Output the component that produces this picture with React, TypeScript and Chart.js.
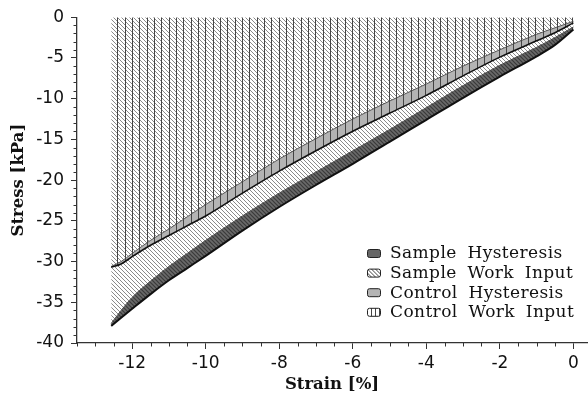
import React, { useEffect, useRef } from 'react';
import { Chart, registerables } from 'chart.js';

Chart.register(...registerables);

// ---- Data ----
const strain = [-12.57, -12.3, -12, -11.5, -11, -10.5, -10, -9, -8, -7, -6, -5, -4, -3, -2, -1, -0.5, 0];
const sampleLower = [-37.9, -36.9, -35.8, -34.0, -32.3, -30.8, -29.3, -26.2, -23.3, -20.6, -18.0, -15.3, -12.6, -9.9, -7.3, -4.8, -3.4, -1.5];
const sampleUpper = [-37.6, -36.0, -34.4, -32.4, -30.6, -29.0, -27.4, -24.4, -21.6, -19.0, -16.4, -13.8, -11.1, -8.4, -5.9, -3.7, -2.5, -1.2];
const controlLower = [-30.7, -30.3, -29.4, -28.0, -26.8, -25.6, -24.4, -21.6, -18.9, -16.4, -14.0, -11.8, -9.6, -7.2, -4.9, -2.9, -1.9, -0.7];
const controlUpper = [-30.6, -30.0, -29.0, -27.4, -26.0, -24.5, -23.0, -20.2, -17.4, -14.9, -12.5, -10.3, -8.2, -6.0, -4.0, -2.1, -1.3, -0.5];

const legendLabels = ['Sample Hysteresis', 'Sample Work Input', 'Control Hysteresis', 'Control Work Input'];
const xTitle = 'Strain [%]';
const yTitle = 'Stress [kPa]';
const xMin = -13.5;
const xMax = 0.37;
const yMin = -40;
const yMax = 0;
const xStep = 2;
const yStep = 5;
const xMinorStep = 0.5;
const yMinorStep = 1;

function diagPattern(bg: string | null, fg: string, step: number, lw: number): CanvasPattern {
  const c = document.createElement('canvas');
  c.width = step;
  c.height = step;
  const g = c.getContext('2d')!;
  if (bg) {
    g.fillStyle = bg;
    g.fillRect(0, 0, step, step);
  }
  g.strokeStyle = fg;
  g.lineWidth = lw;
  g.beginPath();
  for (const o of [-step, 0, step]) {
    g.moveTo(o - 1, -1);
    g.lineTo(o + step + 1, step + 1);
  }
  g.stroke();
  return g.createPattern(c, 'repeat')!;
}

function vertPattern(bg: string | null, fg: string): CanvasPattern {
  const c = document.createElement('canvas');
  c.width = 22;
  c.height = 4;
  const g = c.getContext('2d')!;
  if (bg) {
    g.fillStyle = bg;
    g.fillRect(0, 0, 22, 4);
  }
  g.fillStyle = fg;
  for (const x of [0, 7, 15]) g.fillRect(x, 0, 1, 4);
  return g.createPattern(c, 'repeat')!;
}

const pts = (ys: number[]) => strain.map((x, i) => ({ x, y: ys[i] }));

export default function App() {
  const ref = useRef<HTMLCanvasElement | null>(null);

  useEffect(() => {
    document.body.style.margin = '0';
    const canvas = ref.current!;
    const workDiag = diagPattern('#ffffff', '#8a8a8a', 4, 1);
    const darkDiag = diagPattern('#6a6a6a', '#3a3a3a', 4, 1.2);
    const vert = vertPattern(null, '#444444');

    const minorTicks = {
      id: 'minorTicks',
      afterDraw(chart: any) {
        const { ctx, chartArea, scales } = chart;
        ctx.save();
        ctx.strokeStyle = '#333';
        ctx.lineWidth = 1;
        ctx.beginPath();
        for (let v = xMin; v <= xMax + 1e-9; v += xMinorStep) {
          if (Math.abs(v / xStep - Math.round(v / xStep)) < 1e-6) continue;
          const px = Math.round(scales.x.getPixelForValue(v)) + 0.5;
          ctx.moveTo(px, chartArea.bottom);
          ctx.lineTo(px, chartArea.bottom + 3.5);
        }
        for (let v = yMin; v <= yMax + 1e-9; v += yMinorStep) {
          if (Math.abs(v / yStep - Math.round(v / yStep)) < 1e-6) continue;
          const py = Math.round(scales.y.getPixelForValue(v)) + 0.5;
          ctx.moveTo(chartArea.left, py);
          ctx.lineTo(chartArea.left - 3.5, py);
        }
        ctx.stroke();
        ctx.restore();
      },
    };

    const legendPlugin = {
      id: 'boxLegend',
      afterDraw(chart: any) {
        const ctx = chart.ctx as CanvasRenderingContext2D;
        ctx.save();
        const bx = 367;
        const y0 = 253;
        const dy = 19.6;
        ctx.font = '17px "DejaVu Serif"';
        (ctx as any).letterSpacing = '0.4px';
        (ctx as any).wordSpacing = '5px';
        ctx.textBaseline = 'middle';
        ctx.fillStyle = '#111';
        legendLabels.forEach((lab, i) => {
          const cy = y0 + i * dy;
          const x = bx, y = cy - 4, w = 13, h = 8;
          ctx.beginPath();
          (ctx as any).roundRect(x + 0.5, y + 0.5, w, h, 2);
          if (i === 0) ctx.fillStyle = '#666666';
          else if (i === 1) ctx.fillStyle = '#ffffff';
          else if (i === 2) ctx.fillStyle = '#b4b4b4';
          else ctx.fillStyle = '#ffffff';
          ctx.fill();
          ctx.save();
          ctx.clip();
          ctx.strokeStyle = '#444';
          ctx.lineWidth = 1;
          ctx.beginPath();
          if (i === 1) {
            for (let k = -8; k < 16; k += 4) {
              ctx.moveTo(x + k, y);
              ctx.lineTo(x + k + h + 1, y + h + 1);
            }
          } else if (i === 3) {
            for (let k = 4; k < w; k += 4) {
              ctx.moveTo(x + k + 0.5, y);
              ctx.lineTo(x + k + 0.5, y + h + 1);
            }
          }
          ctx.stroke();
          ctx.restore();
          ctx.beginPath();
          (ctx as any).roundRect(x + 0.5, y + 0.5, w, h, 2);
          ctx.strokeStyle = '#222';
          ctx.lineWidth = 1;
          ctx.stroke();
          ctx.fillStyle = '#111';
          ctx.fillText(lab, 390, cy + 1);
        });
        ctx.restore();
      },
    };

    const chart = new Chart(canvas, {
      type: 'line',
      data: {
        datasets: [
          {
            label: 'Sample Work Input',
            data: pts(sampleUpper),
            fill: 'end',
            backgroundColor: workDiag,
            borderColor: '#444',
            borderWidth: 1,
            pointRadius: 0,
            cubicInterpolationMode: 'monotone',
            order: 4,
          },
          {
            label: 'Control Work Input',
            data: pts(controlLower),
            fill: 'end',
            backgroundColor: vert,
            borderColor: '#111',
            borderWidth: 1.6,
            pointRadius: 0,
            cubicInterpolationMode: 'monotone',
            order: 2,
          },
          {
            label: 'Control Hysteresis',
            data: pts(controlUpper),
            fill: { target: 1 },
            backgroundColor: '#b4b4b4',
            borderColor: '#555',
            borderWidth: 1,
            pointRadius: 0,
            cubicInterpolationMode: 'monotone',
            order: 3,
          },
          {
            label: 'Sample Hysteresis',
            data: pts(sampleLower),
            fill: { target: 0 },
            backgroundColor: darkDiag,
            borderColor: '#111',
            borderWidth: 2,
            pointRadius: 0,
            cubicInterpolationMode: 'monotone',
            order: 1,
          },
        ] as any,
      },
      options: {
        animation: false,
        responsive: false,
        events: [],
        layout: { padding: { top: 15, right: 1, left: 0, bottom: 0 } },
        plugins: {
          legend: { display: false },
          tooltip: { enabled: false },
        },
        scales: {
          x: {
            type: 'linear',
            position: 'bottom',
            min: xMin,
            max: xMax,
            border: { display: true, color: '#333', width: 1.3 },
            grid: { drawOnChartArea: false, drawTicks: true, tickLength: 6, color: '#333', tickWidth: 1 },
            ticks: {
              stepSize: xStep,
              includeBounds: false,
              maxRotation: 0,
              padding: 4,
              color: '#111',
              font: { family: '"DejaVu Sans"', size: 17 },
            },
            title: {
              display: true,
              text: xTitle,
              color: '#111',
              font: { family: '"DejaVu Serif"', size: 16.5, weight: 'bold' },
              padding: { top: 0, bottom: 1 },
            },
            afterFit: (s: any) => {
              s.height = 53;
            },
          },
          y: {
            type: 'linear',
            min: yMin,
            max: yMax,
            border: { display: true, color: '#333', width: 1.3 },
            grid: { drawOnChartArea: false, drawTicks: true, tickLength: 6, color: '#333', tickWidth: 1 },
            ticks: {
              stepSize: yStep,
              padding: 7,
              color: '#111',
              font: { family: '"DejaVu Sans"', size: 17 },
            },
            title: {
              display: true,
              text: yTitle,
              color: '#111',
              font: { family: '"DejaVu Serif"', size: 16.5, weight: 'bold' },
              padding: { top: 9, bottom: 0 },
            },
            afterFit: (s: any) => {
              s.width = 77;
            },
          },
        },
      } as any,
      plugins: [minorTicks, legendPlugin],
    });
    return () => chart.destroy();
  }, []);

  return (
    <div style={{ position: 'absolute', left: 0, top: 0, width: 588, height: 396 }}>
      <canvas ref={ref} width={588} height={396} style={{ width: 588, height: 396, display: 'block' }} />
    </div>
  );
}
